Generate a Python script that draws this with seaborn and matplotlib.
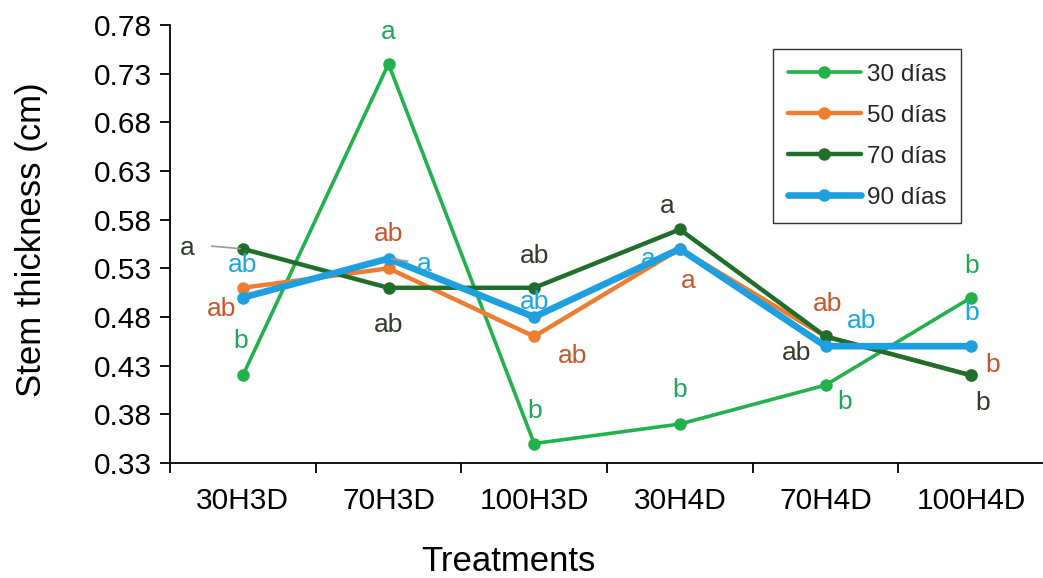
import numpy as np
import pandas as pd
import matplotlib
matplotlib.use('Agg')
import matplotlib.pyplot as plt
import seaborn as sns

# Datos
tratamientos = ['30H3D', '70H3D', '100H3D', '30H4D', '70H4D', '100H4D']
dias_30 = [0.42, 0.74, 0.35, 0.37, 0.41, 0.50]
dias_50 = [0.51, 0.53, 0.46, 0.55, 0.46, 0.42]
dias_70 = [0.55, 0.51, 0.51, 0.57, 0.46, 0.42]
dias_90 = [0.50, 0.54, 0.48, 0.55, 0.45, 0.45]

letras_30 = ['b', 'a', 'b', 'b', 'b', 'b']
letras_50 = ['ab', 'ab', 'ab', 'a', 'ab', 'b']
letras_70 = ['a', 'ab', 'ab', 'a', 'ab', 'b']
letras_90 = ['ab', 'a', 'ab', 'a', 'ab', 'b']

y_ticks = [0.33, 0.38, 0.43, 0.48, 0.53, 0.58, 0.63, 0.68, 0.73, 0.78]
y_labels = ['0.33', '0.38', '0.43', '0.48', '0.53', '0.58', '0.63', '0.68', '0.73', '0.78']

# desplazamientos de las letras (pixeles)
desp_30 = [(-2, 34), (0, 32), (0, 33), (0, 34), (19, -17), (0, 32)]
desp_50 = [(-21, -21), (0, 34), (38, -20), (8, -32), (2, 32), (21, 10)]
desp_70 = [(-56, 1), (0, -37), (0, 32), (-13, 23), (-29, -17), (11, -28)]
desp_90 = [(0, 33), (36, -5), (0, 15), (-32, -10), (36, 25), (0, 33)]

series = [
    ('30 días', dias_30, letras_30, desp_30, '#22b24c', '#1fa85a', 2.6),
    ('50 días', dias_50, letras_50, desp_50, '#ed7d31', '#c9552a', 3.2),
    ('70 días', dias_70, letras_70, desp_70, '#1f6e2c', '#333d2e', 3.2),
    ('90 días', dias_90, letras_90, desp_90, '#1e9fe0', '#1aa6e6', 4.8),
]

sns.set_theme(style='white')
plt.rcParams['font.family'] = ['Liberation Sans', 'DejaVu Sans']

fig = plt.figure(figsize=(10.43, 5.78), dpi=100)
ax = fig.add_axes([170 / 1043, 1 - 463 / 578, 874 / 1043, 438 / 578])

for nombre, valores, letras, desp, color, color_txt, lw in series:
    df = pd.DataFrame({'Tratamiento': tratamientos, 'Grosor': valores})
    sns.lineplot(data=df, x='Tratamiento', y='Grosor', color=color, linewidth=lw,
                 marker='o', markersize=9, markeredgewidth=0, label=nombre, ax=ax)
    for i, (v, l, d) in enumerate(zip(valores, letras, desp)):
        ax.annotate(l, xy=(i, v), xytext=d, textcoords='offset pixels',
                    ha='center', va='center', fontsize=19, color=color_txt)

# lineas guia
ax.annotate('', xy=(0, dias_70[0]), xytext=(-34, 3), textcoords='offset pixels',
            arrowprops=dict(arrowstyle='-', color='#999999', lw=1.2))
ax.annotate('', xy=(1, dias_90[1]), xytext=(22, -3), textcoords='offset pixels',
            arrowprops=dict(arrowstyle='-', color='#999999', lw=1.2))

ax.set_xlim(-0.5, 5.5)
ax.set_ylim(0.33, 0.78)
ax.set_yticks(y_ticks)
ax.set_yticklabels(y_labels)
ax.set_xticks(range(len(tratamientos)))
ax.set_xticklabels(tratamientos)
ax.set_xticks(np.arange(-0.5, 6, 1), minor=True)
ax.tick_params(axis='x', which='major', length=0, pad=17, labelsize=21.5, colors='black')
ax.tick_params(axis='x', which='minor', length=7, width=1.3, direction='out', color='black', bottom=True)
ax.tick_params(axis='y', length=7, width=1.3, direction='out', pad=6, labelsize=21.5,
               colors='black', left=True)

for s in ['top', 'right']:
    ax.spines[s].set_visible(False)
for s in ['left', 'bottom']:
    ax.spines[s].set_color('black')
    ax.spines[s].set_linewidth(1.3)

ax.set_xlabel('Treatments', fontsize=25, color='black')
ax.set_ylabel('Stem thickness (cm)', fontsize=25, color='black')
ax.xaxis.set_label_coords(338 / 874, -82 / 438)
ax.yaxis.set_label_coords(-122 / 874, 0.51)

leg = ax.legend(loc='upper left', bbox_to_anchor=(773 / 1043, 1 - 49 / 578),
                bbox_transform=fig.transFigure, fontsize=17.5, frameon=True,
                fancybox=False, edgecolor='black', handlelength=3.0,
                handletextpad=0.25, labelspacing=0.78, borderpad=0.6,
                borderaxespad=0)
leg.get_frame().set_linewidth(1.0)

fig.savefig('out.png', dpi=100)
